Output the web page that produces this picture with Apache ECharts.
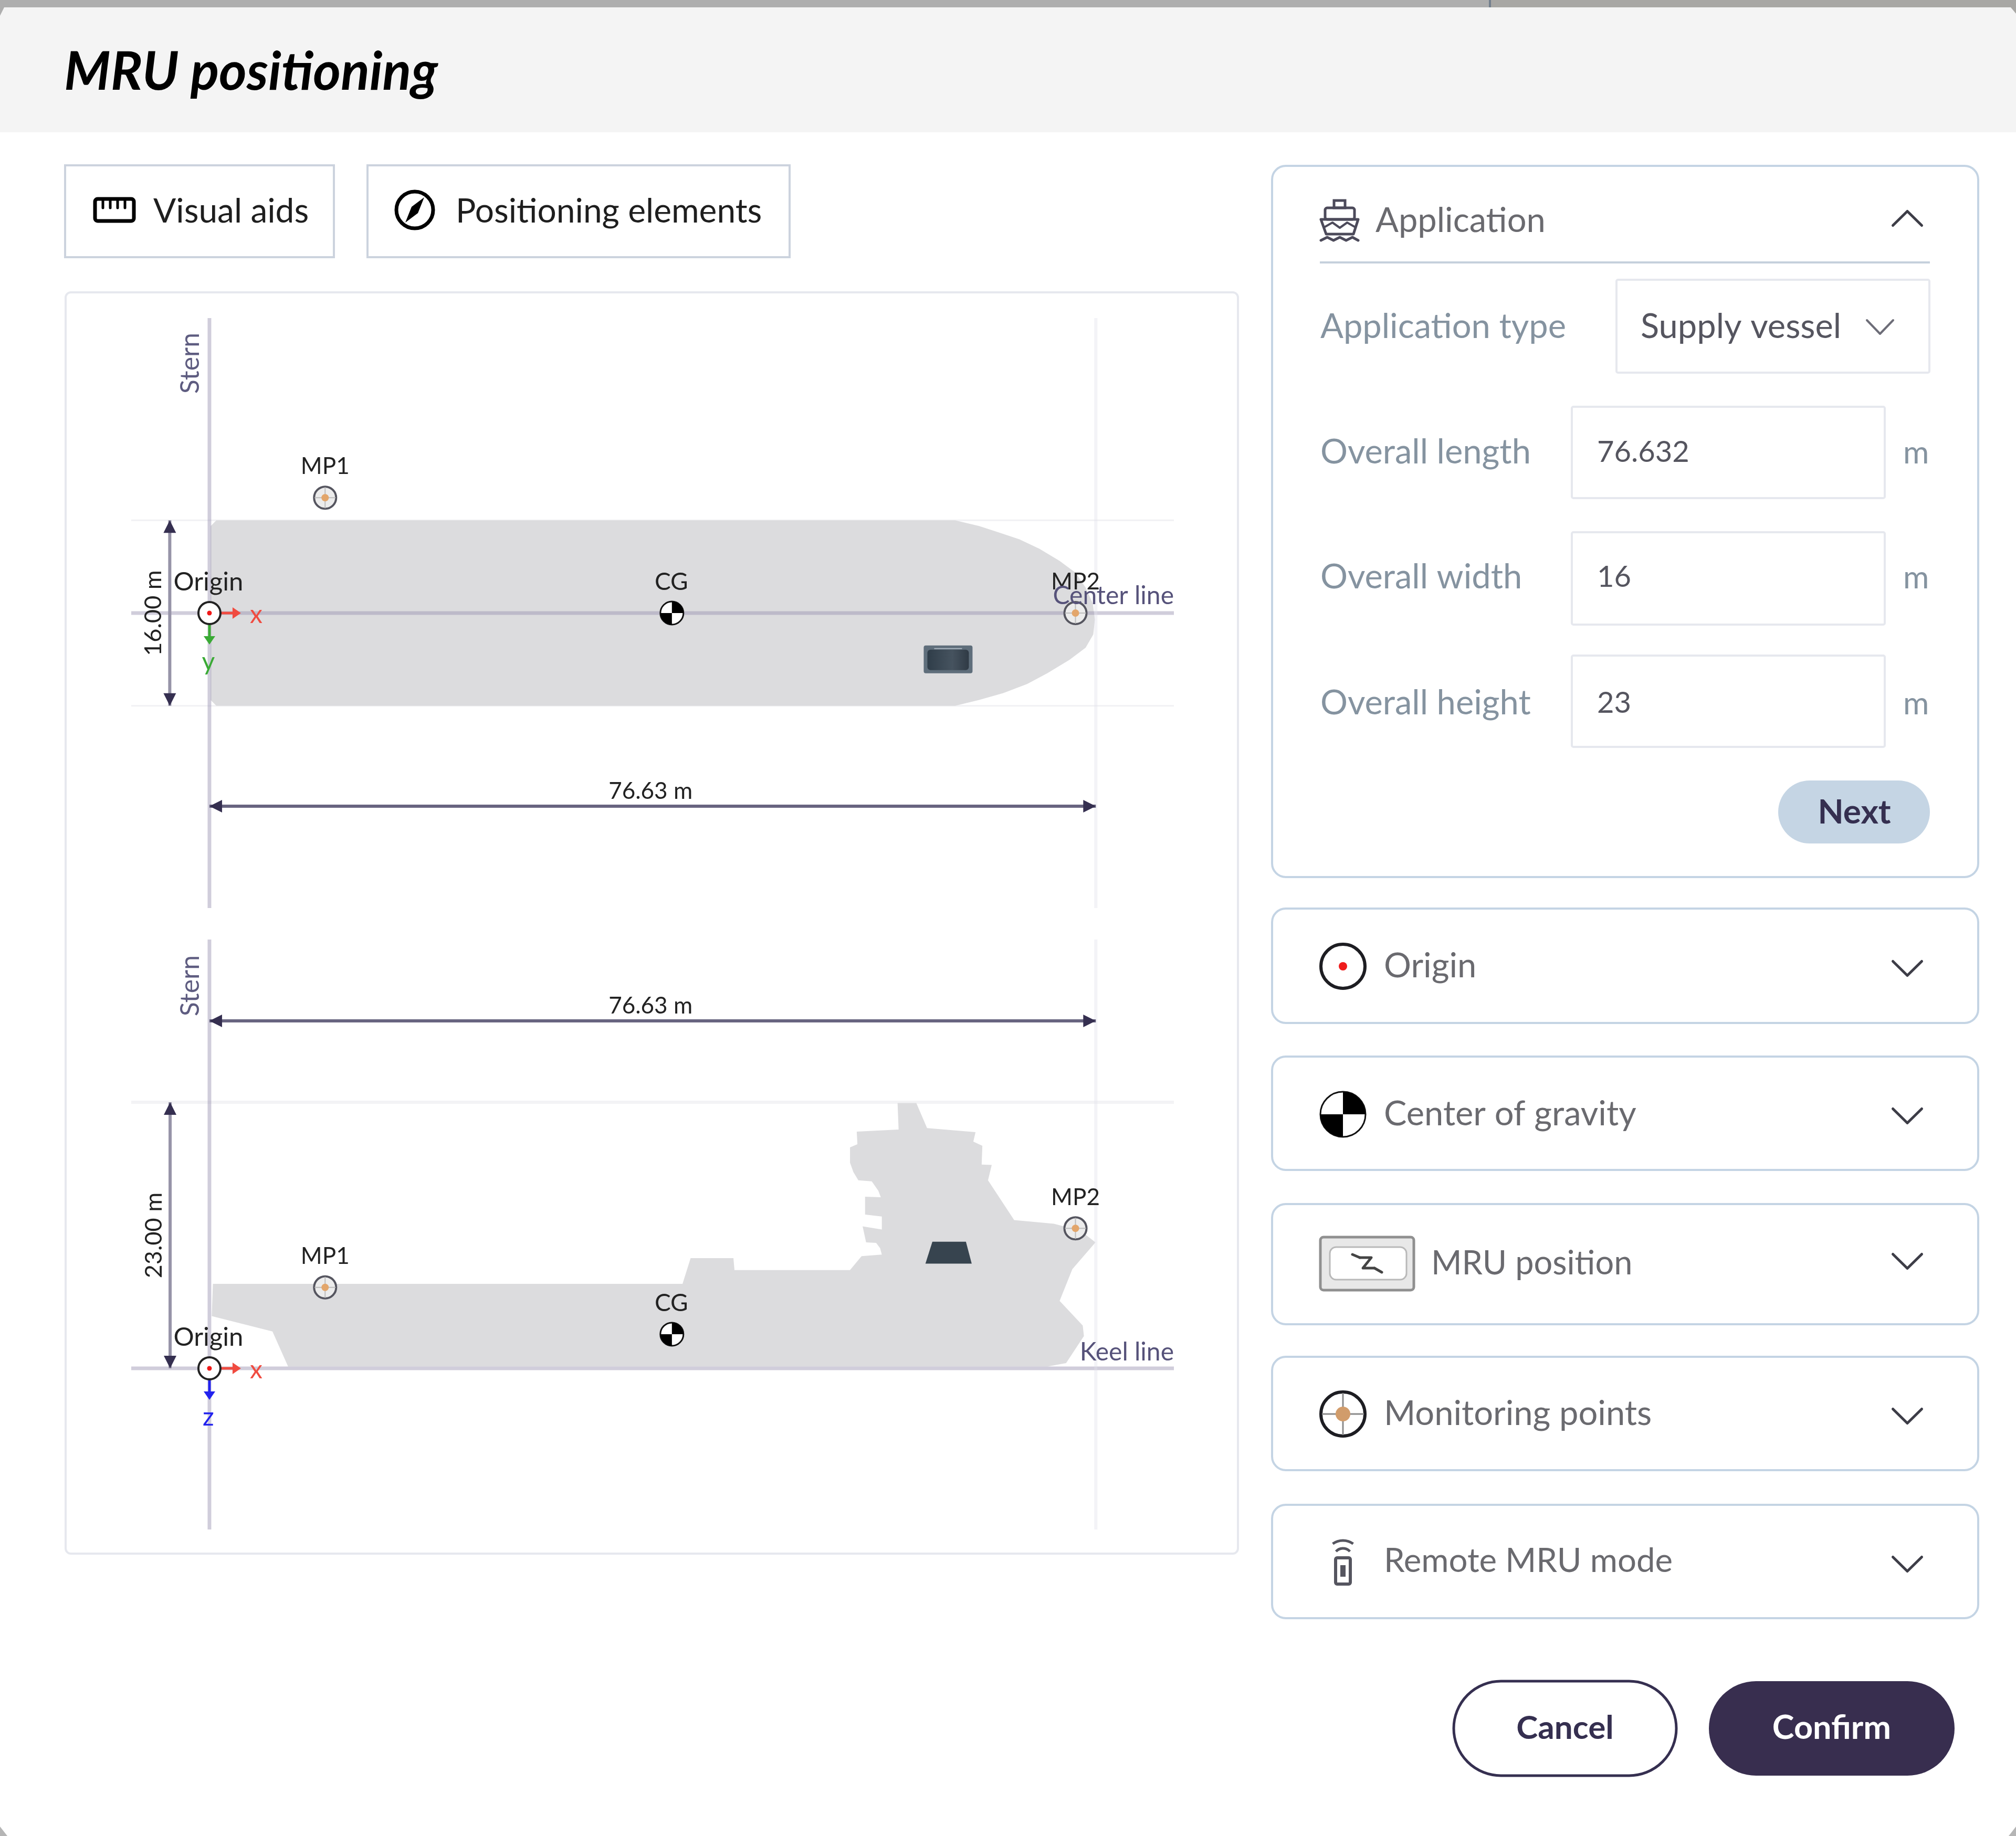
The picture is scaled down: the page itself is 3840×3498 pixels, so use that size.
<!DOCTYPE html>
<html>
<head>
<meta charset="utf-8">
<title>MRU positioning</title>
<script src="https://cdn.jsdelivr.net/npm/echarts@6/dist/echarts.min.js"></script>
<style>
    html, body {margin:0;padding:0;background:#fff;}
    #main {width:3840px;height:3498px;}
</style>
</head>
<body>
<div id="main"></div>
<script>
    // vessel size, metres
    const overallLength = 76.63;
    const overallWidth = 16;
    const overallHeight = 23;
    const dimLabels = ['76.63 m', '16.00 m', '76.63 m', '23.00 m'];

    // plan view outline (x along ship, y to starboard)
    const hullPlanX = [0.1, 0.6, 64.46, 66.55, 68.29, 70.02, 71.75, 73.49, 74.88, 75.75, 76.37, 76.55, 76.41, 75.75, 74.36, 72.45, 70.71, 68.63, 66.55, 64.46, 0.6, 0.1];
    const hullPlanY = [-7.5, -8, -8, -7.51, -6.94, -6.36, -5.55, -4.51, -3.47, -2.2, -0.82, 0.57, 1.84, 2.99, 4.03, 5.18, 6.11, 6.91, 7.49, 8, 8, 7.5];

    // side view outline (x along ship, z above keel)
    const hullSideX = [0.3, 40.9, 41.6, 45.3, 45.39, 55.38, 56.38, 58.13, 57.98, 57.64, 56.77, 56.47, 58.13, 58.13, 56.68, 56.68, 58.04, 57.83, 57.26, 56.1, 55.67, 55.38, 55.38, 56.02, 55.96, 59.58, 59.49, 61.11, 62.04, 66.23, 66.04, 66.82, 66.76, 67.63, 67.31, 69.57, 73.0, 75.3, 76.6, 74.6, 73.5, 75.5, 75.6, 74.06, 72.47, 6.8, 5.45, 0.2];
    const hullSideZ = [7.3, 7.3, 9.53, 9.53, 8.5, 8.5, 9.7, 9.84, 10.39, 10.84, 10.89, 12.27, 12.0, 13.12, 13.29, 14.84, 14.79, 15.35, 16.16, 16.26, 16.97, 17.78, 19.1, 19.37, 20.46, 20.65, 22.94, 22.94, 20.77, 20.42, 19.6, 19.24, 17.62, 17.58, 16.26, 12.82, 12.5, 11.9, 10.89, 8.57, 5.83, 3.7, 2.79, 0.45, 0.16, 0.16, 3.19, 4.51];

    // positioning elements
    const mpNames = ['MP1', 'MP2'];
    const mpX = [10.0, 74.87];
    const mpY = [-9.95, 0];
    const mpZ = [7.0, 12.1];
    const cgX = 39.98;
    const cgY = 0;
    const cgZ = 2.95;
    const mruPlanX = [61.75, 65.97];
    const mruPlanY = [2.8, 5.2];
    const mruSideX = [61.9, 62.5, 65.4, 65.9];
    const mruSideZ = [9.05, 10.95, 10.95, 9.05];

    // reference lines
    const planRefX = [0, overallLength];
    const planRefY = [-8, 0, 8];
    const sideRefX = [0, overallLength];
    const sideRefZ = [23, 0];
    const axisX = [-6.76, 83.38];
    const planAxisY = [-25.45, 25.45];
    const sideAxisZ = [-13.93, 37.07];
    const planLengthY = 16.66;
    const planWidthX = -3.43;
    const sideLengthZ = 30.04;
    const sideHeightX = -3.4;

    // form texts
    const formLabels = ['Overall length', 'Overall width', 'Overall height'];
    const formValues = ['76.632', '16', '23'];
    const panelNames = ['Origin', 'Center of gravity', 'MRU position', 'Monitoring points', 'Remote MRU mode'];

    const FONT = 'Lato';
    const INK = '#352f50';
    const REF = 'rgba(150,145,175,0.45)';
    const chart = echarts.init(document.getElementById('main'));

    function T(x, y, text, size, fill, weight, align, fontStyle) {
        return {
            type: 'text',
            style: {x: x, y: y, text: text, fontSize: size, fill: fill, fontFamily: FONT, fontWeight: weight || 400, fontStyle: fontStyle || 'normal', align: align || 'left', verticalAlign: 'middle'}
        };
    }

    function rotText(x, y, text, size, fill) {
        return {
            type: 'text', x: x, y: y, rotation: Math.PI / 2,
            style: {x: 0, y: 0, text: text, fontSize: size, fill: fill, fontFamily: FONT, align: 'center', verticalAlign: 'middle'}
        };
    }

    /* ---------- diagram series ---------- */

    function refSeries(points, grid, color, width, z) {
        return {
            type: 'line', xAxisIndex: grid, yAxisIndex: grid, data: points, symbol: 'none', silent: true, z: z,
            lineStyle: {color: color, width: width}, animation: false
        };
    }

    function polySeries(xs, ys, grid, fill, z) {
        const pts = xs.map((x, i) => [x, ys[i]]);
        return {
            type: 'custom', xAxisIndex: grid, yAxisIndex: grid, data: [pts[0]], z: z, silent: true, clip: false,
            renderItem: function (params, api) {
                return {type: 'polygon', shape: {points: pts.map(p => api.coord(p))}, style: {fill: fill}};
            }
        };
    }

    function arrowHead(x, y, dx, dy, len, half, fill) {
        return {
            type: 'polygon',
            shape: {points: [[x, y], [x - dx * len - dy * half, y - dy * len - dx * half], [x - dx * len + dy * half, y - dy * len + dx * half]]},
            style: {fill: fill}
        };
    }

    function dimSeries(grid, segs, labelStart) {
        return {
            type: 'custom', xAxisIndex: grid, yAxisIndex: grid, data: segs, z: 5, silent: true, clip: false,
            renderItem: function (params, api) {
                const a = api.coord([api.value(0), api.value(1)]);
                const b = api.coord([api.value(2), api.value(3)]);
                const flat = Math.abs(a[1] - b[1]) < 1;
                const dx = flat ? 1 : 0, dy = flat ? 0 : 1;
                const s = flat ? (b[0] > a[0] ? 1 : -1) : (b[1] > a[1] ? 1 : -1);
                const label = dimLabels[labelStart + params.dataIndex];
                const mx = (a[0] + b[0]) / 2, my = (a[1] + b[1]) / 2;
                return {
                    type: 'group',
                    children: [
                        {type: 'line', shape: {x1: a[0], y1: a[1], x2: b[0], y2: b[1]}, style: {stroke: flat ? '#686480' : '#9794a8', lineWidth: 6}},
                        arrowHead(a[0], a[1], -dx * s, -dy * s, 24, 12, INK),
                        arrowHead(b[0], b[1], dx * s, dy * s, 24, 12, INK),
                        flat ? T(mx - 4, my - 28, label, 44, '#222', 400, 'center') : rotText(mx - 31, my, label, 45, '#222')
                    ]
                };
            }
        };
    }

    function mpMark(c, name) {
        const x = c[0], y = c[1];
        return {
            type: 'group',
            children: [
                {type: 'circle', shape: {cx: x, cy: y, r: 21}, style: {fill: '#ececec', stroke: '#55555f', lineWidth: 4}},
                {type: 'line', shape: {x1: x - 20, y1: y, x2: x + 20, y2: y}, style: {stroke: '#bdbdbd', lineWidth: 2}},
                {type: 'line', shape: {x1: x, y1: y - 20, x2: x, y2: y + 20}, style: {stroke: '#bdbdbd', lineWidth: 2}},
                {type: 'circle', shape: {cx: x, cy: y, r: 7}, style: {fill: '#e3a66b'}},
                T(x, y - 59, name, 44, '#222', 400, 'center')
            ]
        };
    }

    function mpSeries(grid, ys) {
        return {
            type: 'custom', xAxisIndex: grid, yAxisIndex: grid, data: mpX.map((x, i) => [x, ys[i]]), z: 6, silent: true, clip: false,
            renderItem: function (params, api) {
                return mpMark(api.coord([api.value(0), api.value(1)]), mpNames[params.dataIndex]);
            }
        };
    }

    function quarters(x, y, r) {
        return [
            {type: 'circle', shape: {cx: x, cy: y, r: r}, style: {fill: '#fff', stroke: '#111', lineWidth: 3}},
            {type: 'sector', shape: {cx: x, cy: y, r: r, r0: 0, startAngle: -Math.PI / 2, endAngle: 0}, style: {fill: '#000'}},
            {type: 'sector', shape: {cx: x, cy: y, r: r, r0: 0, startAngle: Math.PI / 2, endAngle: Math.PI}, style: {fill: '#000'}}
        ];
    }

    function cgSeries(grid, yValue) {
        return {
            type: 'custom', xAxisIndex: grid, yAxisIndex: grid, data: [[cgX, yValue]], z: 6, silent: true, clip: false,
            renderItem: function (params, api) {
                const c = api.coord([api.value(0), api.value(1)]);
                return {type: 'group', children: quarters(c[0], c[1], 22).concat([T(c[0] - 1, c[1] - 59, 'CG', 46, '#222', 400, 'center')])};
            }
        };
    }

    function originSeries(grid, axisName, axisColor) {
        return {
            type: 'custom', xAxisIndex: grid, yAxisIndex: grid, data: [[0, 0]], z: 7, silent: true, clip: false,
            renderItem: function (params, api) {
                const c = api.coord([api.value(0), api.value(1)]);
                const x = c[0], y = c[1];
                const red = '#f04b40';
                return {
                    type: 'group',
                    children: [
                        {type: 'line', shape: {x1: x + 22, y1: y, x2: x + 50, y2: y}, style: {stroke: red, lineWidth: 5}},
                        arrowHead(x + 60, y, 1, 0, 16, 11, red),
                        T(x + 89, y + 4, 'x', 48, red, 400, 'center'),
                        {type: 'line', shape: {x1: x, y1: y + 22, x2: x, y2: y + 48}, style: {stroke: axisColor, lineWidth: 5}},
                        arrowHead(x, y + 60, 0, 1, 16, 11, axisColor),
                        T(x - 2, y + 94, axisName, 48, axisColor, 400, 'center'),
                        {type: 'circle', shape: {cx: x, cy: y, r: 21}, style: {fill: '#fff', stroke: '#222', lineWidth: 4}},
                        {type: 'circle', shape: {cx: x, cy: y, r: 4.5}, style: {fill: '#f01818'}},
                        T(x - 2, y - 59, 'Origin', 49, '#222', 400, 'center')
                    ]
                };
            }
        };
    }

    function mruPlanSeries() {
        return {
            type: 'custom', xAxisIndex: 0, yAxisIndex: 0, data: [[mruPlanX[0], mruPlanY[0], mruPlanX[1], mruPlanY[1]]], z: 6, silent: true, clip: false,
            renderItem: function (params, api) {
                const a = api.coord([api.value(0), api.value(1)]);
                const b = api.coord([api.value(2), api.value(3)]);
                const w = b[0] - a[0], h = b[1] - a[1];
                return {
                    type: 'group',
                    children: [
                        {type: 'rect', shape: {x: a[0], y: a[1], width: w, height: h, r: 4}, style: {fill: '#5f6e7b'}},
                        {type: 'rect', shape: {x: a[0] + 7, y: a[1] + 8, width: w - 14, height: h - 14, r: 6}, style: {
                            fill: new echarts.graphic.LinearGradient(0, 0, 1, 0, [{offset: 0, color: '#2f3d49'}, {offset: 0.6, color: '#46535f'}, {offset: 1, color: '#2f3a45'}])
                        }},
                        {type: 'line', shape: {x1: a[0] + 20, y1: a[1] + 6, x2: b[0] - 20, y2: a[1] + 6}, style: {stroke: '#a9b5bf', lineWidth: 2}}
                    ]
                };
            }
        };
    }

    function dimSegs() {
        return {
            plan: [[0, planLengthY, overallLength, planLengthY], [planWidthX, -overallWidth / 2, planWidthX, overallWidth / 2]],
            side: [[0, sideLengthZ, overallLength, sideLengthZ], [sideHeightX, overallHeight, sideHeightX, 0]]
        };
    }

    function textSeries(grid, item, build) {
        return {
            type: 'custom', xAxisIndex: grid, yAxisIndex: grid, data: [item], z: 8, silent: true, clip: false,
            renderItem: function (params, api) {
                return build(api.coord([api.value(0), api.value(1)]));
            }
        };
    }

    const segs = dimSegs();
    const seriesList = [
        polySeries(hullPlanX, hullPlanY, 0, '#dcdcde', 2),
        polySeries(hullSideX, hullSideZ, 1, '#dcdcde', 2),
        refSeries([[axisX[0], planRefY[0]], [axisX[1], planRefY[0]]], 0, '#f1f1f4', 3, 1),
        refSeries([[axisX[0], planRefY[2]], [axisX[1], planRefY[2]]], 0, '#f1f1f4', 3, 1),
        refSeries([[axisX[0], planRefY[1]], [axisX[1], planRefY[1]]], 0, REF, 7, 3),
        refSeries([[planRefX[0], planAxisY[0]], [planRefX[0], planAxisY[1]]], 0, REF, 7, 3),
        refSeries([[planRefX[1], planAxisY[0]], [planRefX[1], planAxisY[1]]], 0, 'rgba(225,225,235,0.4)', 6, 3),
        refSeries([[axisX[0], sideRefZ[0]], [axisX[1], sideRefZ[0]]], 1, '#f3f3f5', 6, 1),
        refSeries([[axisX[0], sideRefZ[1]], [axisX[1], sideRefZ[1]]], 1, REF, 7, 3),
        refSeries([[sideRefX[0], sideAxisZ[0]], [sideRefX[0], sideAxisZ[1]]], 1, REF, 7, 3),
        refSeries([[sideRefX[1], sideAxisZ[0]], [sideRefX[1], sideAxisZ[1]]], 1, 'rgba(225,225,235,0.4)', 6, 3),
        dimSeries(0, segs.plan, 0),
        dimSeries(1, segs.side, 2),
        mruPlanSeries(),
        polySeries(mruSideX, mruSideZ, 1, '#37444f', 6),
        mpSeries(0, mpY),
        mpSeries(1, mpZ),
        cgSeries(0, cgY),
        cgSeries(1, cgZ),
        originSeries(0, 'y', '#3aaa35'),
        originSeries(1, 'z', '#2222ee'),
        textSeries(0, [0, planAxisY[0]], c => rotText(c[0] - 36, c[1] + 86, 'Stern', 50, '#5e5c80')),
        textSeries(1, [0, sideAxisZ[1]], c => rotText(c[0] - 36, c[1] + 88, 'Stern', 50, '#5e5c80')),
        textSeries(0, [axisX[1], planRefY[1]], c => T(c[0], c[1] - 32, 'Center line', 48, '#56527a', 400, 'right')),
        textSeries(1, [axisX[1], sideRefZ[1]], c => T(c[0], c[1] - 30, 'Keel line', 48, '#56527a', 400, 'right'))
    ];

    /* ---------- dialog chrome ---------- */

    function box(x, y, w, h, r, stroke, fill, lw) {
        return {type: 'rect', shape: {x: x, y: y, width: w, height: h, r: r}, style: {fill: fill || 'none', stroke: stroke || 'none', lineWidth: lw || 0}};
    }

    function poly(points, stroke, lw) {
        return {type: 'polyline', shape: {points: points}, style: {fill: 'none', stroke: stroke, lineWidth: lw, lineCap: 'round', lineJoin: 'round'}};
    }

    function chevron(x, y, up, w, h, color, lw) {
        return up ? poly([[x - w / 2, y + h / 2], [x, y - h / 2], [x + w / 2, y + h / 2]], color, lw)
            : poly([[x - w / 2, y - h / 2], [x, y + h / 2], [x + w / 2, y - h / 2]], color, lw);
    }

    function fill(points, color) {
        return {type: 'polygon', shape: {points: points}, style: {fill: color}};
    }

    const PANEL = '#c4d4e4';
    const SOFT = '#e6e8ee';
    const LABEL = '#8593a0';
    const VALUE = '#55555f';
    const NAME = '#6a6a6f';
    const panelX = 2423, panelW = 1345;
    const panelTop = [1731, 2013, 2294, 2585, 2867];
    const panelH = [218, 216, 229, 216, 216];
    const panelTextX = [2636, 2636, 2726, 2636, 2636];
    const panelTextY = [1841, 2123, 2408, 2694, 2975];
    const panelTextSize = [65, 65, 63, 65, 63.5];
    const chevronY = [1845, 2126, 2403, 2698, 2980];
    const formY = [862, 1100, 1340];
    const inputTop = [775, 1014, 1249];
    const inputH = [174, 176, 174];

    const chrome = [
        box(0, 0, 3840, 3498, 0, null, '#fff'),
        box(0, 14, 3840, 238, 0, null, '#f4f4f4'),
        box(0, 0, 2836, 14, 0, null, '#aeaeae'),
        box(2836, 0, 1004, 14, 0, null, '#a8a7a4'),
        box(2836, 0, 4, 14, 0, null, '#74808e'),
        fill([[0, 14], [8, 14], [0, 30]], '#aeaeae'),
        fill([[3840, 14], [3830, 14], [3840, 26]], '#a8a7a4'),
        fill([[0, 3480], [14, 3498], [0, 3498]], '#b5b5b5'),
        fill([[3840, 3480], [3826, 3498], [3840, 3498]], '#b5b5b5'),
        T(122, 138, 'MRU positioning', 101, '#000', 700, 'left', 'italic'),
        box(124, 315, 512, 175, 0, '#ccd3de', 'none', 4),
        box(700, 315, 804, 175, 0, '#ccd3de', 'none', 4),
        T(292, 403, 'Visual aids', 64, '#1e1e1e'),
        T(868, 403, 'Positioning elements', 64, '#1e1e1e'),

        // ruler icon
        box(181, 379, 74, 42, 5, '#000', 'none', 7),
        poly([[196, 380], [196, 396]], '#000', 5),
        poly([[210, 380], [210, 396]], '#000', 5),
        poly([[224, 380], [224, 396]], '#000', 5),
        poly([[238, 380], [238, 396]], '#000', 5),

        // compass icon
        {type: 'circle', shape: {cx: 790, cy: 400, r: 35}, style: {fill: 'none', stroke: '#000', lineWidth: 7}},
        fill([[808, 376], [796, 406], [772, 424], [784, 394]], '#000'),

        // drawing panel
        box(125, 557, 2233, 2403, 10, SOFT, 'none', 4),

        // application panel
        box(panelX, 316, panelW, 1355, 26, PANEL, 'none', 4),
        T(2620, 421, 'Application', 65, NAME),
        chevron(3633, 416, true, 55, 27, '#3d3d47', 5),
        {type: 'line', shape: {x1: 2514, y1: 500, x2: 3676, y2: 500}, style: {stroke: '#c5d0dc', lineWidth: 4}},

        // ship icon
        box(2541, 382, 21, 14, 0, '#4c4a5a', 'none', 5),
        box(2524, 396, 56, 22, 4, '#4c4a5a', 'none', 5),
        poly([[2516, 418], [2587, 418], [2578, 446], [2526, 446], [2516, 418]], '#4c4a5a', 5),
        poly([[2524, 432], [2538, 424], [2552, 434], [2566, 424], [2580, 432]], '#4c4a5a', 4),
        poly([[2516, 458], [2528, 452], [2540, 458], [2552, 452], [2564, 458], [2576, 452], [2587, 458]], '#4c4a5a', 5),

        T(2515, 623, 'Application type', 65, LABEL),
        box(3079, 533, 596, 177, 3, SOFT, 'none', 4),
        T(3125, 623, 'Supply vessel', 65, VALUE),
        chevron(3581, 623, false, 50, 26, '#6d6d78', 4),

        // next button
        box(3387, 1487, 289, 120, 60, null, '#c5d5e4'),
        T(3532, 1548, 'Next', 64, INK, 700, 'center'),

        // footer buttons
        box(2769, 3203, 424, 180, 90, INK, '#fff', 5),
        T(2981, 3293, 'Cancel', 62, INK, 700, 'center'),
        box(3255, 3203, 468, 180, 90, null, '#382e4f'),
        T(3489, 3293, 'Confirm', 63, '#fff', 700, 'center'),

        // collapsed panel icons
        {type: 'circle', shape: {cx: 2558, cy: 1841, r: 42}, style: {fill: 'none', stroke: '#1d1d22', lineWidth: 6}},
        {type: 'circle', shape: {cx: 2558, cy: 1841, r: 8}, style: {fill: '#ef1c1c'}}
    ].concat(quarters(2558, 2123, 43)).concat([
        box(2515, 2357, 178, 101, 6, '#909090', '#e8e8e8', 5),
        box(2533, 2376, 146, 62, 12, '#b9b9b9', '#fff', 3),
        poly([[2576, 2390], [2590, 2396]], '#444', 5),
        poly([[2590, 2396], [2612, 2396], [2596, 2416], [2618, 2416]], '#444', 5),
        poly([[2618, 2416], [2632, 2424]], '#444', 5),
        {type: 'circle', shape: {cx: 2558, cy: 2694, r: 42}, style: {fill: 'none', stroke: '#1d1d22', lineWidth: 6}},
        {type: 'line', shape: {x1: 2518, y1: 2694, x2: 2598, y2: 2694}, style: {stroke: '#8a8a8a', lineWidth: 3}},
        {type: 'line', shape: {x1: 2558, y1: 2654, x2: 2558, y2: 2734}, style: {stroke: '#8a8a8a', lineWidth: 3}},
        {type: 'circle', shape: {cx: 2558, cy: 2694, r: 14}, style: {fill: '#d19c6b'}},
        box(2544, 2968, 28, 50, 3, '#55555f', 'none', 6),
        box(2553, 2982, 10, 22, 0, null, '#55555f'),
        {type: 'arc', shape: {cx: 2558, cy: 2968, r: 18, startAngle: -2.4, endAngle: -0.74}, style: {fill: 'none', stroke: '#55555f', lineWidth: 5}},
        {type: 'arc', shape: {cx: 2558, cy: 2968, r: 33, startAngle: -2.2, endAngle: -0.94}, style: {fill: 'none', stroke: '#55555f', lineWidth: 5}}
    ]);

    formLabels.forEach(function (label, i) {
        chrome.push(T(2515, formY[i], label, 65, LABEL));
        chrome.push(box(2994, inputTop[i], 596, inputH[i], 3, SOFT, 'none', 4));
        chrome.push(T(3042, formY[i], formValues[i], 56, VALUE));
        chrome.push(T(3625, formY[i] + 2, 'm', 60, LABEL));
    });

    panelNames.forEach(function (name, i) {
        chrome.push(box(panelX, panelTop[i], panelW, panelH[i], 26, PANEL, 'none', 4));
        chrome.push(T(panelTextX[i], panelTextY[i], name, panelTextSize[i], NAME));
        chrome.push(chevron(3633, chevronY[i], false, 55, 27, '#3d3d47', 5));
    });

    chart.setOption({
        animation: false,
        backgroundColor: '#fff',
        grid: [
            {left: 250, width: 1986, top: 606, height: 1124},
            {left: 250, width: 1986, top: 1790, height: 1124}
        ],
        xAxis: [
            {type: 'value', gridIndex: 0, min: axisX[0], max: axisX[1], show: false},
            {type: 'value', gridIndex: 1, min: axisX[0], max: axisX[1], show: false}
        ],
        yAxis: [
            {type: 'value', gridIndex: 0, min: planAxisY[0], max: planAxisY[1], inverse: true, show: false},
            {type: 'value', gridIndex: 1, min: sideAxisZ[0], max: sideAxisZ[1], show: false}
        ],
        graphic: {elements: chrome},
        series: seriesList
    });
</script>
</body>
</html>
